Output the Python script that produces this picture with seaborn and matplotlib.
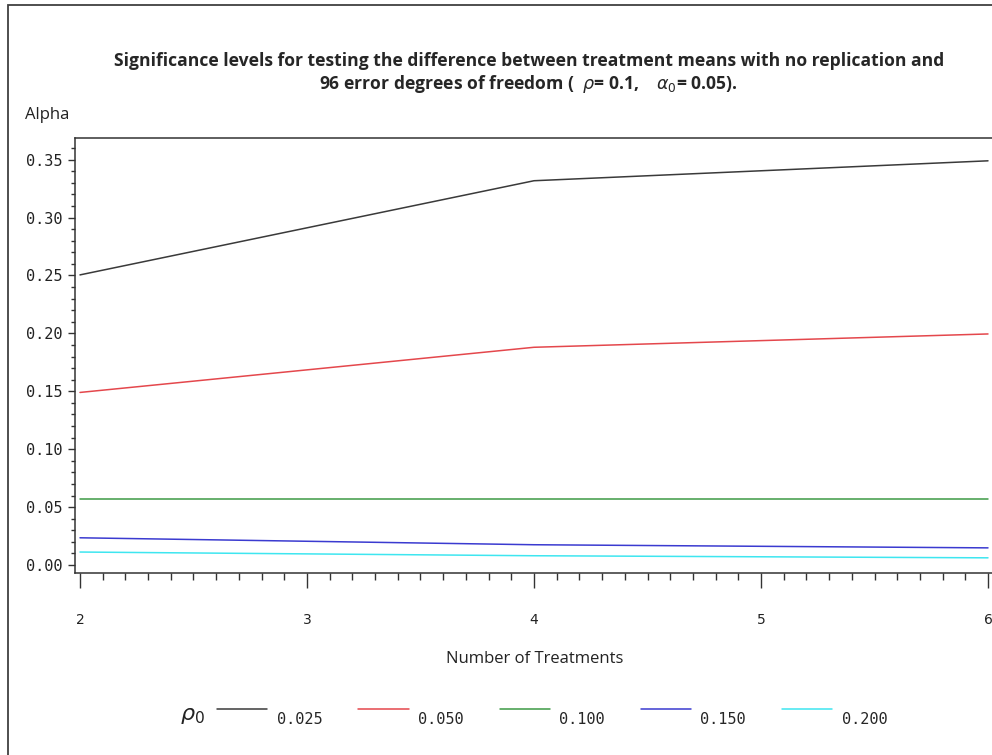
import numpy as np
import pandas as pd
import matplotlib
matplotlib.use("Agg")
import matplotlib.pyplot as plt
from matplotlib.patches import Rectangle
from matplotlib.legend_handler import HandlerLine2D
from matplotlib.ticker import MultipleLocator, FormatStrFormatter
import seaborn as sns

# Significance levels by number of treatments, one series per rho_0
treatments = [2, 4, 6]
rho0_levels = ["0.025", "0.050", "0.100", "0.150", "0.200"]
alpha_0025 = [0.2505, 0.3318, 0.3490]
alpha_0050 = [0.1490, 0.1880, 0.1995]
alpha_0100 = [0.0570, 0.0570, 0.0570]
alpha_0150 = [0.0235, 0.0175, 0.0148]
alpha_0200 = [0.0112, 0.0080, 0.0062]
series = [alpha_0025, alpha_0050, alpha_0100, alpha_0150, alpha_0200]
line_colors = ["#3a3a3a", "#e4474c", "#3d9a45", "#3b3bd0", "#3ee6f0"]

df = pd.DataFrame({
    "treatments": np.tile(treatments, len(rho0_levels)),
    "alpha": np.concatenate(series),
    "rho0": np.repeat(rho0_levels, len(treatments)),
})

sns.set_style("ticks")
plt.rcParams["font.family"] = ["DejaVu Sans"]

fig = plt.figure(figsize=(9.92, 7.55), dpi=100)
fig.patch.set_facecolor("white")

# outer frame around the graph
fig.patches.append(Rectangle((8 / 992, -0.2), 1.2, 1.2 - 5 / 755, transform=fig.transFigure,
                             fill=False, edgecolor="#404040", linewidth=1.3))

ax = fig.add_axes([75 / 992, 1 - 573 / 755, 1 - 75 / 992, (573 - 138) / 755])
sns.lineplot(data=df, x="treatments", y="alpha", hue="rho0", hue_order=rho0_levels,
             palette=dict(zip(rho0_levels, line_colors)), linewidth=1.1, ax=ax, legend=False)

ax.set_xlim(1.978, 6.0176)
ax.set_ylim(-0.0069, 0.3687)
ax.xaxis.set_major_locator(MultipleLocator(1))
ax.xaxis.set_minor_locator(MultipleLocator(0.1))
ax.yaxis.set_major_locator(MultipleLocator(0.05))
ax.yaxis.set_minor_locator(MultipleLocator(0.01))
ax.yaxis.set_major_formatter(FormatStrFormatter("%.2f"))

for side in ["left", "top", "bottom"]:
    ax.spines[side].set_color("#333333")
    ax.spines[side].set_linewidth(1.1)
ax.spines["right"].set_visible(False)

ax.tick_params(axis="x", which="major", length=11, width=1.0, color="#333333", pad=18,
               labelsize=10, labelcolor="#222222")
ax.tick_params(axis="x", which="minor", length=5, width=1.0, color="#333333")
ax.tick_params(axis="y", which="major", length=5, width=1.0, color="#333333", pad=4,
               labelcolor="#222222")
ax.tick_params(axis="y", which="minor", length=3, width=1.0, color="#333333")
for lab in ax.get_yticklabels():
    lab.set_fontfamily("DejaVu Sans Mono")
    lab.set_fontsize(11)
ax.set_xlabel("")
ax.set_ylabel("")

# titles and axis labels
fig.text(0.533, 1 - 61 / 755,
         "Significance levels for testing the difference between treatment means with no replication and",
         ha="center", va="center", fontsize=12.6, fontweight="bold", family="Open Sans")
fig.text(0.533, 1 - 84 / 755,
         r"96 error degrees of freedom (  $\rho$= 0.1,    $\alpha_0$= 0.05).",
         ha="center", va="center", fontsize=12.6, fontweight="bold", family="Open Sans")
fig.text(25 / 992, 1 - 115 / 755, "Alpha", ha="left", va="center", fontsize=12, family="Open Sans",
         color="#222222")
fig.text(535 / 992, 1 - 659 / 755, "Number of Treatments", ha="center", va="center",
         fontsize=12, family="Open Sans", color="#222222")


class RaisedLine(HandlerLine2D):
    def create_artists(self, legend, orig_handle, xdescent, ydescent, width, height,
                       fontsize, trans):
        return super().create_artists(legend, orig_handle, xdescent, ydescent - 14,
                                      width, height, fontsize, trans)


handles = [plt.Line2D([], [], color=c, linewidth=1.1) for c in line_colors]
leg = fig.legend(handles, rho0_levels, loc="center left",
                 bbox_to_anchor=(217 / 992, 1 - 720 / 755), ncol=5, frameon=False,
                 prop={"family": "DejaVu Sans Mono", "size": 11}, handlelength=3.3,
                 handletextpad=0.6, columnspacing=2.36, borderpad=0, borderaxespad=0,
                 handler_map={plt.Line2D: RaisedLine()})
fig.text(192 / 992, 1 - 716 / 755, r"$\rho_0$", ha="center", va="center", fontsize=16,
         color="#222222")

fig.savefig("out.png", dpi=100)
